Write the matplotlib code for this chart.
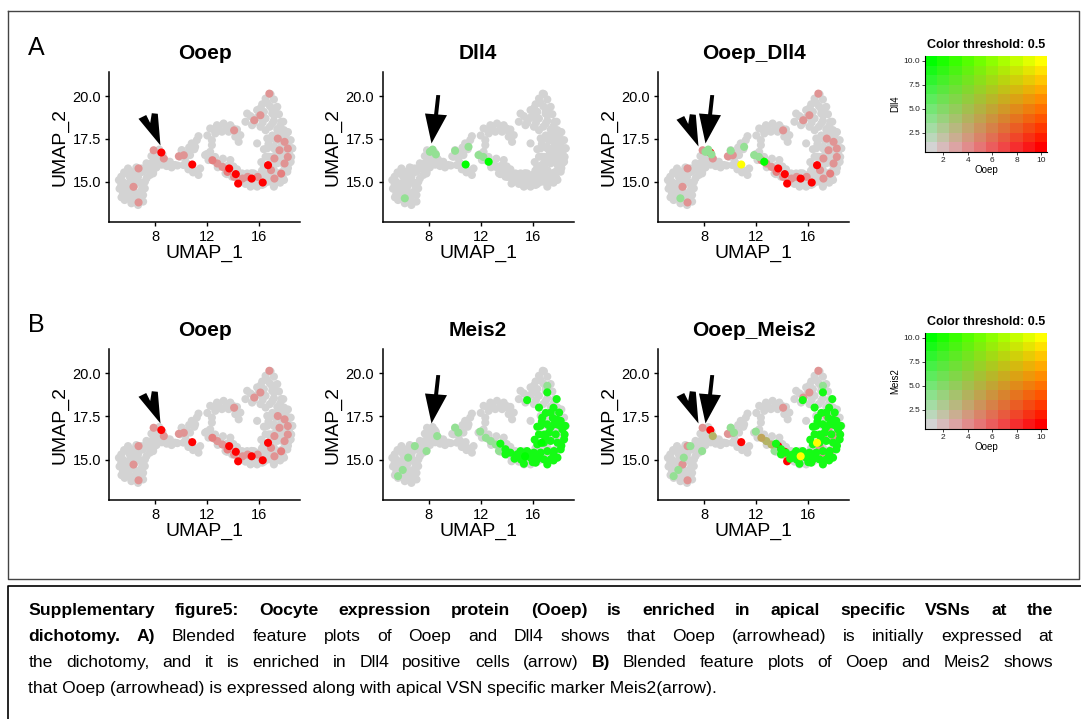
import numpy as np
import matplotlib
matplotlib.use("Agg")
import matplotlib.pyplot as plt
from matplotlib.path import Path
from matplotlib.lines import Line2D
from matplotlib.transforms import IdentityTransform

plt.rcParams['font.family'] = ['Liberation Sans', 'DejaVu Sans']

W, H, DPI = 1081, 719, 100

# UMAP embedding of all cells (grey cloud)
bg_umap1 = [5.90, 6.54, 7.06, 5.38, 6.03, 6.67, 7.32, 5.38, 5.90, 6.42, 6.93, 7.19, 5.51, 6.03, 6.54, 7.06,
            5.64, 6.16, 6.67, 7.06, 6.29, 5.20, 5.25, 5.80, 6.20, 6.75, 5.60, 6.30, 5.75, 6.90, 5.40, 5.95,
            5.50, 6.10, 6.50, 6.85, 7.20, 5.65, 6.60, 6.30, 5.80, 7.00,
            # ridge
            7.45, 7.70, 7.32, 7.96, 7.70, 8.22, 8.35, 8.74, 9.12, 9.51, 9.25, 8.87, 8.09, 7.83, 7.58, 8.00, 8.50,
            7.55, 8.60, 9.00, 9.70,
            # middle group
            9.90, 10.28, 10.16, 10.54, 11.06, 11.45, 10.67, 11.19, 11.32, 10.80, 11.32, 10.45, 10.40, 11.00,
            10.90, 10.60,
            # lower arm + right side
            12.22, 12.09, 12.99, 13.38, 13.77, 13.77, 14.15, 14.54, 14.93, 15.32, 15.83, 16.35, 16.86, 17.38,
            17.77, 18.15, 18.41, 18.54, 18.41, 18.03, 17.77, 17.90, 17.51, 17.12, 16.61, 16.09, 15.57, 15.06,
            14.67, 14.28, 17.38, 17.12, 16.86, 16.48, 15.96, 16.61, 17.25, 15.83, 16.73, 12.60, 13.20, 14.00,
            16.20, 18.10, 17.60, 18.30, 17.80, 15.40,
            12.80, 13.50, 14.40, 15.20, 15.70, 16.60, 17.10, 18.00, 18.25, 17.70, 17.30, 16.90, 17.50, 18.00,
            # upper band
            12.22, 12.74, 13.25, 13.77, 14.28, 14.54, 14.15, 13.64, 13.12, 12.61, 12.35, 12.35, 14.41, 12.00,
            12.90, 13.50, 14.00, 12.50,
            # top right
            16.86, 16.48, 17.12, 16.22, 16.81, 17.38, 15.83, 16.35, 16.99, 17.51, 15.32, 15.83, 16.48, 17.12,
            17.69, 14.93, 15.44, 16.09, 16.81, 17.38, 17.90, 15.06, 16.60, 17.00, 18.20,
            16.10, 17.20, 15.60, 16.25, 17.00, 17.60]
bg_umap2 = [15.78, 15.84, 15.59, 15.30, 15.30, 15.30, 15.20, 14.82, 14.91, 14.82, 14.91, 14.62, 14.33, 14.43, 14.33, 14.23,
            13.94, 13.75, 13.65, 13.85, 15.40, 15.10, 14.60, 15.50, 15.10, 15.00, 15.55, 14.60, 14.60, 14.45, 14.10, 14.10,
            15.00, 15.60, 15.55, 15.55, 15.00, 14.85, 14.10, 13.90, 14.30, 14.65,
            15.78, 16.08, 16.08, 16.27, 16.50, 16.50, 16.17, 16.27, 16.17, 15.98, 15.84, 15.92, 15.84, 15.59, 15.40, 16.05, 16.00,
            15.90, 16.10, 16.05, 15.95,
            16.46, 16.37, 15.98, 15.73, 15.65, 15.78, 16.56, 17.43, 17.66, 17.24, 15.40, 16.65, 16.10, 16.90,
            15.55, 17.00,
            16.75, 16.27, 16.08, 15.84, 16.27, 15.59, 15.30, 15.11, 14.88, 14.72, 14.72, 14.88, 15.01, 15.26,
            15.59, 15.98, 16.46, 16.95, 17.43, 17.72, 17.04, 16.56, 16.17, 15.69, 15.30, 15.15, 15.11, 15.20,
            15.49, 15.73, 16.56, 16.95, 16.08, 15.69, 15.40, 17.53, 17.43, 17.24, 16.46, 16.45, 16.35, 15.90,
            15.65, 17.20, 17.70, 16.10, 15.25, 15.50,
            15.85, 15.45, 15.50, 14.95, 14.90, 15.00, 15.10, 16.30, 16.70, 16.80, 16.30, 15.35, 15.50, 15.70,
            18.11, 18.30, 18.40, 18.30, 18.05, 17.72, 17.63, 17.92, 17.92, 17.82, 17.43, 17.14, 17.33, 17.70,
            18.10, 18.10, 18.10, 18.05,
            20.11, 19.85, 19.80, 19.52, 19.41, 19.37, 19.18, 19.08, 18.98, 18.94, 18.83, 18.75, 18.69, 18.56,
            18.50, 18.50, 18.30, 18.21, 18.21, 18.05, 18.01, 18.98, 19.60, 19.20, 17.90,
            19.30, 19.05, 18.55, 18.45, 18.40, 18.25]

# expressing cells, level on a 0-10 scale
ooep_umap1 = [8.46, 10.84, 13.68, 14.19, 14.37, 15.41, 16.26, 16.67,
              7.87, 8.65, 6.71, 6.32, 6.71, 9.81, 10.19, 12.39, 12.77, 13.16, 13.55, 14.06, 14.71, 15.10, 15.87,
              17.16, 17.68, 17.94, 18.19, 17.55, 18.19, 17.42, 17.94, 17.16, 16.90, 14.06, 15.61, 16.08, 16.77]
ooep_umap2 = [16.71, 16.01, 15.78, 15.45, 14.90, 15.19, 14.96, 15.97,
              16.84, 16.36, 15.78, 14.71, 13.80, 16.49, 16.55, 16.26, 16.07, 15.87, 15.58, 15.29, 15.19, 15.29, 15.29,
              15.19, 15.48, 16.07, 16.45, 16.84, 16.94, 17.52, 17.33, 16.36, 15.68, 18.00, 18.59, 18.88, 20.14]
ooep_level = [10, 10, 10, 10, 10, 10, 10, 10,
              3, 3, 3, 3, 3, 3, 3, 4, 3, 3, 4, 3, 3, 3, 3,
              3, 4, 3, 3, 3, 3, 3, 3, 3, 3, 3, 3, 3, 3]

dll4_umap1 = [10.84, 12.61, 8.09, 8.30, 8.55, 10.03, 11.06, 11.83, 6.16, 12.20]
dll4_umap2 = [16.01, 16.17, 16.75, 16.88, 16.60, 16.81, 17.04, 16.56, 14.04, 16.45]
dll4_level = [10, 10, 3, 3, 3, 3, 3, 3, 3, 3]

meis2_umap1 = [15.57, 17.12, 17.84, 16.48, 16.73, 17.38, 18.03, 18.15, 17.64, 17.12,
               18.28, 17.77, 17.25, 16.48, 18.41, 17.90, 17.38, 16.86, 16.35, 18.15,
               17.64, 17.12, 16.61, 16.09, 17.90, 17.38, 16.86, 16.35, 15.83, 15.32,
               14.80, 14.28, 13.90, 13.51, 15.06, 15.57, 17.12, 16.22, 15.32, 16.90,
               18.00, 17.55, 16.15, 16.60, 16.20, 17.60, 18.20, 18.45, 18.50, 17.90,
               17.35, 16.95, 16.35, 16.70, 17.00, 17.60, 15.10, 14.60, 13.90, 16.00,
               17.60, 16.50,
               15.41, 16.67,
               12.39, 12.77, 13.16, 8.65, 10.03, 10.28, 6.93, 6.42, 5.64, 7.83,
               17.12, 11.96, 13.40, 6.00]
meis2_umap2 = [18.44, 18.89, 18.50, 18.01, 17.43, 17.72, 17.72, 17.24, 17.04, 17.04,
               16.75, 16.46, 16.56, 16.46, 16.17, 15.98, 16.08, 15.98, 15.88, 15.59,
               15.49, 15.49, 15.40, 15.40, 15.11, 15.01, 15.01, 15.01, 15.11, 15.11,
               15.30, 15.40, 15.30, 15.92, 15.49, 15.49, 14.72, 14.82, 14.76, 16.45,
               17.00, 17.40, 16.15, 16.95, 15.30, 15.25, 15.80, 16.45, 16.95, 17.30,
               16.85, 16.30, 16.90, 17.20, 17.70, 18.00, 15.00, 15.05, 15.60, 14.85,
               14.95, 15.20,
               15.19, 15.97,
               16.26, 16.07, 15.87, 16.36, 16.85, 16.56, 15.78, 15.11, 14.04, 15.49,
               19.27, 16.62, 15.50, 14.40]
meis2_level = [9, 9, 9, 9, 9, 9, 9, 9, 9, 9,
               9, 9, 9, 9, 9, 9, 9, 9, 9, 9,
               9, 9, 9, 9, 9, 9, 9, 9, 9, 9,
               9, 9, 9, 9, 9, 9, 9, 9, 9, 9,
               9, 9, 9, 9, 9, 9, 9, 9, 9, 9,
               9, 9, 9, 9, 9, 9, 9, 9, 9, 9,
               9, 9,
               10, 10,
               3, 3, 3, 3, 3, 3, 3, 3, 3, 3,
               3, 3, 3, 3]

genes = ["Ooep", "Dll4", "Meis2"]
x_ticks = [8, 12, 16]
y_ticks = [15.0, 17.5, 20.0]
legend_x_ticks = [2, 4, 6, 8, 10]
legend_y_ticks = [2.5, 5.0, 7.5, 10.0]

caption_lines = [
    [("Supplementary figure5: Oocyte expression protein (Ooep) is enriched in apical specific VSNs at the", True)],
    [("dichotomy. A)", True),
     ("Blended feature plots of Ooep and Dll4 shows that Ooep (arrowhead) is initially expressed at", False)],
    [("the dichotomy, and it is enriched in Dll4 positive cells (arrow)", False), ("B)", True),
     ("Blended feature plots of Ooep and Meis2 shows", False)],
    [("that Ooep (arrowhead) is expressed along with apical VSN specific marker Meis2(arrow).", False)],
]

GREY = np.array([211, 211, 211]) / 255.0
RED = np.array([1.0, 0.0, 0.0])
GREEN = np.array([0.0, 1.0, 0.0])
YELLOW = np.array([1.0, 1.0, 0.0])


def blend(a, b):
    wa, wb = a / 10.0, b / 10.0
    c = GREY * (1 - wa) * (1 - wb) + RED * wa * (1 - wb) + GREEN * (1 - wa) * wb + YELLOW * wa * wb
    return np.clip(c, 0, 1)


# merge everything into one table of cells
cells = {}
for x, y in zip(bg_umap1, bg_umap2):
    cells.setdefault((round(x, 2), round(y, 2)), [0, 0, 0])
for gi, (xs, ys, lv) in enumerate([(ooep_umap1, ooep_umap2, ooep_level),
                                   (dll4_umap1, dll4_umap2, dll4_level),
                                   (meis2_umap1, meis2_umap2, meis2_level)]):
    for x, y, l in zip(xs, ys, lv):
        cells.setdefault((round(x, 2), round(y, 2)), [0, 0, 0])[gi] = l
cell_xy = np.array(list(cells.keys()))
cell_lv = np.array(list(cells.values()), dtype=float)

# arrow shapes (pixel units, tip at the origin)
ARROWHEAD = Path([(0, 0), (-22, 26.7), (-14.3, 30.5), (-10.3, 22.5), (-8.7, 32.3), (-2.7, 31.7), (0, 0)],
                 closed=True)
ARROW = Path([(0, 0), (15.5, 28.3), (6.6, 29), (8.7, 48.3), (4.8, 48.5), (2.6, 29.3), (-6.5, 30), (0, 0)],
             closed=True)

fig = plt.figure(figsize=(W / DPI, H / DPI), dpi=DPI)


def feature_panel(rect, ia, ib, title, heads=(), arrows=()):
    ax = fig.add_axes(rect)
    zero = np.zeros(len(cell_xy))
    la = cell_lv[:, ia] if ia is not None else zero
    lb = cell_lv[:, ib] if ib is not None else zero
    cols = np.array([blend(a, b) for a, b in zip(la, lb)])
    order = np.lexsort((la, lb))
    ax.scatter(cell_xy[order, 0], cell_xy[order, 1], c=cols[order], s=34, linewidths=0, zorder=2)
    ax.set_xlim(4.46, 19.15)
    ax.set_ylim(12.66, 21.4)
    ax.set_xticks(x_ticks)
    ax.set_yticks(y_ticks)
    ax.set_yticklabels(["%.1f" % v for v in y_ticks])
    for s in ("top", "right"):
        ax.spines[s].set_visible(False)
    for s in ("left", "bottom"):
        ax.spines[s].set_linewidth(1.1)
    ax.tick_params(length=3, width=1.0, labelsize=10.5, pad=3, colors="black")
    ax.set_xlabel("UMAP_1", fontsize=14, labelpad=0.5)
    ax.set_ylabel("UMAP_2", fontsize=14, labelpad=3)
    ax.set_title(title, fontsize=15, fontweight="bold", pad=9.5)
    for (tx, ty) in heads:
        ax.plot([tx], [ty], marker=ARROWHEAD, ms=2 * 32.3 * 0.72, color="black", mew=0, zorder=5, clip_on=False)
    for (tx, ty) in arrows:
        ax.plot([tx], [ty], marker=ARROW, ms=2 * 48.5 * 0.72, color="black", mew=0, zorder=5, clip_on=False)
    return ax


def blend_legend(rect, ylab):
    ax = fig.add_axes(rect)
    lv = np.arange(1, 11)
    grid = np.array([[blend((i - 1) * 10 / 9, (j - 1) * 10 / 9) for i in lv] for j in lv])
    ax.imshow(grid, origin="lower", extent=(0.5, 10.5, 0.5, 10.5), aspect="auto", interpolation="nearest")
    ax.set_xticks(legend_x_ticks)
    ax.set_yticks(legend_y_ticks)
    ax.set_yticklabels(["%.1f" % v for v in legend_y_ticks])
    for s in ("top", "right"):
        ax.spines[s].set_visible(False)
    ax.tick_params(length=2, width=0.6, labelsize=6, pad=1.5, colors="#222222")
    ax.set_xlabel("Ooep", fontsize=7, labelpad=1)
    ax.set_ylabel(ylab, fontsize=7, labelpad=2)
    ax.set_title("Color threshold: 0.5", fontsize=9, fontweight="bold", pad=6)


col_left = [109.3, 382.7, 658.3]
pw = 191
for row, (top, bot, g2) in enumerate([(72, 222, 1), (349, 500, 2)]):
    rb = 1 - bot / H
    rh = (bot - top) / H
    head_y = 17.14
    arr_y = 17.24 if row == 0 else 17.1
    feature_panel([col_left[0] / W, rb, pw / W, rh], 0, None, "Ooep", heads=[(8.33, head_y)])
    feature_panel([col_left[1] / W, rb, pw / W, rh], None, g2, genes[g2], arrows=[(8.15, arr_y)])
    feature_panel([col_left[2] / W, rb, pw / W, rh], 0, g2, "Ooep_" + genes[g2],
                  heads=[(7.5, 17.1)], arrows=[(8.07, arr_y)])
    ltop, lbot = (56, 152) if row == 0 else (333, 429)
    blend_legend([925 / W, 1 - lbot / H, 122 / W, (lbot - ltop) / H], genes[g2])

fig.text(28 / W, 1 - 55 / H, "A", fontsize=18, va="baseline")
fig.text(28 / W, 1 - 332 / H, "B", fontsize=18, va="baseline")

# frames
ident = IdentityTransform()
fig.add_artist(Line2D([8, 8, 1079, 1079, 8], [H - 11, H - 579, H - 579, H - 11, H - 11],
                      transform=ident, color="#444444", lw=1.0))
fig.add_artist(Line2D([8, 8, 1090], [-5, H - 585.7, H - 585.7], transform=ident, color="black", lw=1.2))

# caption, justified like the original
renderer = fig.canvas.get_renderer()
CAP_FS = 12.6
X0, X1 = 28.3, 1053.0
baselines = [615, 641, 667.3, 693.3]
for k, segs in enumerate(caption_lines):
    yb = H - baselines[k]
    if k == len(caption_lines) - 1:
        fig.text(X0, yb, segs[0][0], fontsize=CAP_FS, transform=ident, va="baseline")
        continue
    words = [(w, b) for seg, b in segs for w in seg.split()]
    arts = [fig.text(0, yb, w, fontsize=CAP_FS, fontweight="bold" if b else "normal",
                     transform=ident, va="baseline") for w, b in words]
    widths = [a.get_window_extent(renderer).width for a in arts]
    gap = (X1 - X0 - sum(widths)) / (len(arts) - 1)
    x = X0
    for a, w in zip(arts, widths):
        a.set_position((x, yb))
        x += w + gap

fig.savefig("out.png", dpi=DPI)
